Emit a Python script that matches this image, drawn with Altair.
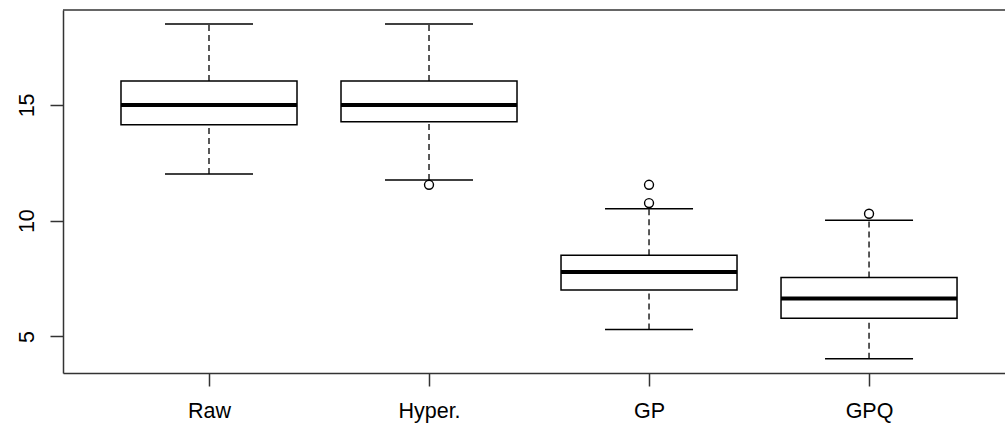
import json
import altair as alt
import pandas as pd

# Box-plot summaries per method
groups = ["Raw", "Hyper.", "GP", "GPQ"]
positions = [1, 2, 3, 4]
whisker_low = [12.02, 11.76, 5.30, 4.04]
q1 = [14.14, 14.27, 7.00, 5.79]
median = [15.00, 15.00, 7.78, 6.64]
q3 = [16.03, 16.03, 8.51, 7.55]
whisker_high = [18.50, 18.50, 10.51, 10.02]

# Points beyond the whiskers
outlier_group = ["Hyper.", "GP", "GP", "GPQ"]
outlier_value = [11.55, 11.55, 10.76, 10.30]

BOX_HALF = 0.4
CAP_HALF = 0.2

stats = pd.DataFrame({
    "group": groups,
    "pos": positions,
    "lo": whisker_low,
    "q1": q1,
    "med": median,
    "q3": q3,
    "hi": whisker_high,
})
stats["left"] = stats["pos"] - BOX_HALF
stats["right"] = stats["pos"] + BOX_HALF
stats["cap_l"] = stats["pos"] - CAP_HALF
stats["cap_r"] = stats["pos"] + CAP_HALF

pos_of = dict(zip(groups, positions))
outliers = pd.DataFrame({
    "group": outlier_group,
    "pos": [pos_of[g] for g in outlier_group],
    "value": outlier_value,
})

W, H = 942, 363
x_domain = [0.3364, 4.618]
y_domain = [3.42, 19.10]

label_expr = "%s[datum.value - 1]" % json.dumps(groups)

font = "Liberation Sans"
label_size = 21.5

x_scale = alt.Scale(domain=x_domain, nice=False, zero=False)
y_scale = alt.Scale(domain=y_domain, nice=False, zero=False)

x_axis = alt.Axis(
    values=positions, labelExpr=label_expr, title=None, grid=False,
    domain=True, domainColor="#333333", domainWidth=1.5,
    tickSize=13, tickColor="#333333", tickWidth=1.5,
    labelFont=font, labelFontSize=label_size, labelColor="#000000",
    labelPadding=14, labelAngle=0,
)
y_axis = alt.Axis(
    values=[5, 10, 15], title=None, grid=False,
    domain=True, domainColor="#333333", domainWidth=1.5,
    tickSize=13, tickColor="#333333", tickWidth=1.5,
    labelFont=font, labelFontSize=label_size, labelColor="#000000",
    labelAngle=270, labelAlign="center", labelBaseline="bottom",
    labelPadding=12,
)

base = alt.Chart(stats)

whisk_up = base.mark_rule(color="#000000", strokeWidth=1.3, strokeDash=[6, 4]).encode(
    x=alt.X("pos:Q", scale=x_scale, axis=x_axis),
    y=alt.Y("q3:Q", scale=y_scale, axis=y_axis),
    y2="hi:Q",
)
whisk_down = base.mark_rule(color="#000000", strokeWidth=1.3, strokeDash=[6, 4]).encode(
    x="pos:Q", y="lo:Q", y2="q1:Q",
)
cap_hi = base.mark_rule(color="#000000", strokeWidth=1.5).encode(
    x="cap_l:Q", x2="cap_r:Q", y="hi:Q",
)
cap_lo = base.mark_rule(color="#000000", strokeWidth=1.5).encode(
    x="cap_l:Q", x2="cap_r:Q", y="lo:Q",
)
boxes = base.mark_rect(fill="#ffffff", stroke="#000000", strokeWidth=1.5).encode(
    x="left:Q", x2="right:Q", y="q1:Q", y2="q3:Q",
)
medians = base.mark_rule(color="#000000", strokeWidth=4).encode(
    x="left:Q", x2="right:Q", y="med:Q",
)
points = alt.Chart(outliers).mark_point(
    shape="circle", size=80, filled=False, color="#000000", strokeWidth=1.4,
    opacity=1
).encode(x="pos:Q", y="value:Q")

top_border = alt.Chart(pd.DataFrame({"v": [0]})).mark_rule(
    color="#333333", strokeWidth=1.5
).encode(x=alt.value(0), x2=alt.value(W), y=alt.value(0))

chart = alt.layer(
    whisk_up, whisk_down, cap_hi, cap_lo, boxes, medians, points, top_border
).properties(
    width=W, height=H,
    autosize=alt.AutoSizeParams(type="none"),
    padding={"left": 63, "top": 10, "right": 0, "bottom": 57},
    background="#ffffff",
).configure_view(stroke=None)

chart.save("out.html", embed_options={"renderer": "svg", "actions": False})
